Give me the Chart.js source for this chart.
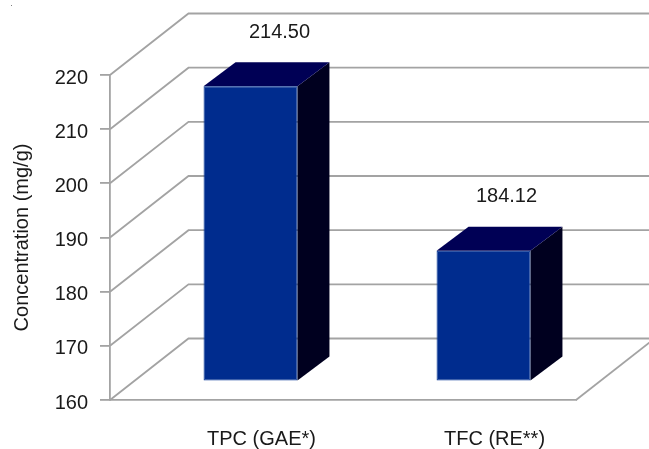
<!DOCTYPE html>
<html>
<head>
<meta charset="utf-8">
<script src="https://cdn.jsdelivr.net/npm/chart.js@4"></script>
<style>
    html, body { margin: 0; padding: 0; background: #fff; }
    canvas { display: block; }
</style>
</head>
<body>
<canvas id="concChart" width="649" height="449"></canvas>
<script>
const categories = ['TPC (GAE*)', 'TFC (RE**)'];
const concentration = [214.50, 184.12];
const valueLabels = ['214.50', '184.12'];
const yTicks = [160, 170, 180, 190, 200, 210, 220];

const FONT = '"Liberation Sans", Arial, sans-serif';
const LINE = '#a3a3a3';
const TEXT = '#1a1a1a';

// depth of the plot box, of the bars, and where the bars sit inside the box
const boxDepth = { x: 78.5, y: -61.5 };
const barDepth = { x: 32, y: -24 };
const barShift = { x: 24, y: -18.5 };
const valueLabelDx = [29, 23];

const wallsAndBars = {
    id: 'wallsAndBars',
    beforeDatasetsDraw(chart) {
        const { ctx, scales: { x, y } } = chart;
        const bottom = y.getPixelForValue(yTicks[0]);

        ctx.save();
        ctx.strokeStyle = LINE;
        ctx.lineWidth = 1.8;
        yTicks.forEach(function(t) {
            const py = y.getPixelForValue(t);
            ctx.beginPath();
            ctx.moveTo(x.left, py);
            ctx.lineTo(x.left + boxDepth.x, py + boxDepth.y);
            ctx.lineTo(chart.width, py + boxDepth.y);
            ctx.stroke();
        });
        // right edge of the floor
        ctx.beginPath();
        ctx.moveTo(x.right, bottom);
        ctx.lineTo(x.right + boxDepth.x, bottom + boxDepth.y);
        ctx.stroke();
        ctx.restore();

        // side and top faces of each bar
        ctx.save();
        ctx.translate(barShift.x, barShift.y);
        chart.getDatasetMeta(0).data.forEach(function(bar) {
            const left = bar.x - bar.width / 2;
            const right = bar.x + bar.width / 2;

            ctx.fillStyle = '#00001f';
            ctx.beginPath();
            ctx.moveTo(right, bar.y);
            ctx.lineTo(right + barDepth.x, bar.y + barDepth.y);
            ctx.lineTo(right + barDepth.x, bar.base + barDepth.y);
            ctx.lineTo(right, bar.base);
            ctx.closePath();
            ctx.fill();

            ctx.fillStyle = '#000055';
            ctx.beginPath();
            ctx.moveTo(left, bar.y);
            ctx.lineTo(left + barDepth.x, bar.y + barDepth.y);
            ctx.lineTo(right + barDepth.x, bar.y + barDepth.y);
            ctx.lineTo(right, bar.y);
            ctx.closePath();
            ctx.fill();
        });
        ctx.restore();

        // front faces get pushed back the same way
        ctx.save();
        ctx.translate(barShift.x, barShift.y);
    },
    afterDatasetsDraw(chart) {
        const ctx = chart.ctx;
        ctx.restore();

        // value labels above the bars
        ctx.save();
        ctx.font = '20px ' + FONT;
        ctx.fillStyle = TEXT;
        ctx.textAlign = 'center';
        ctx.textBaseline = 'middle';
        chart.getDatasetMeta(0).data.forEach(function(bar, i) {
            ctx.fillText(valueLabels[i], bar.x + barShift.x + valueLabelDx[i], bar.y + barShift.y + barDepth.y - 30);
        });

        // stray dot in the top corner
        ctx.font = '8px ' + FONT;
        ctx.fillText('.', 11.5, 4);
        ctx.restore();
    }
};

new Chart(document.getElementById('concChart'), {
    type: 'bar',
    data: {
        labels: categories,
        datasets: [{
            data: concentration,
            base: yTicks[0],
            backgroundColor: '#002c8e',
            borderColor: '#063796',
            borderWidth: 1,
            borderSkipped: false,
            barPercentage: 0.403,
            categoryPercentage: 1,
            clip: false
        }]
    },
    options: {
        responsive: false,
        animation: false,
        layout: { padding: { top: 75, right: 73, bottom: 0, left: 10 } },
        plugins: {
            legend: { display: false },
            tooltip: { enabled: false }
        },
        scales: {
            x: {
                grid: { display: false },
                border: { color: LINE, width: 1.8 },
                ticks: {
                    color: TEXT,
                    font: { family: FONT, size: 20 },
                    labelOffset: 35,
                    padding: 19,
                    maxRotation: 0
                },
                afterFit(scale) { scale.height = 49; }
            },
            y: {
                min: 160,
                max: 220,
                afterBuildTicks(scale) {
                    scale.ticks = yTicks.map(function(v) { return { value: v }; });
                },
                grid: {
                    drawOnChartArea: false,
                    tickLength: 10,
                    tickColor: LINE,
                    lineWidth: 1.8
                },
                border: { color: LINE, width: 1.8 },
                ticks: {
                    color: TEXT,
                    font: { family: FONT, size: 20 },
                    padding: 12,
                    labelOffset: 3
                },
                title: {
                    display: true,
                    text: 'Concentration (mg/g)',
                    color: TEXT,
                    font: { family: FONT, size: 20 },
                    padding: 0
                },
                afterFit(scale) { scale.width = 100; }
            }
        }
    },
    plugins: [wallsAndBars]
});
</script>
</body>
</html>
